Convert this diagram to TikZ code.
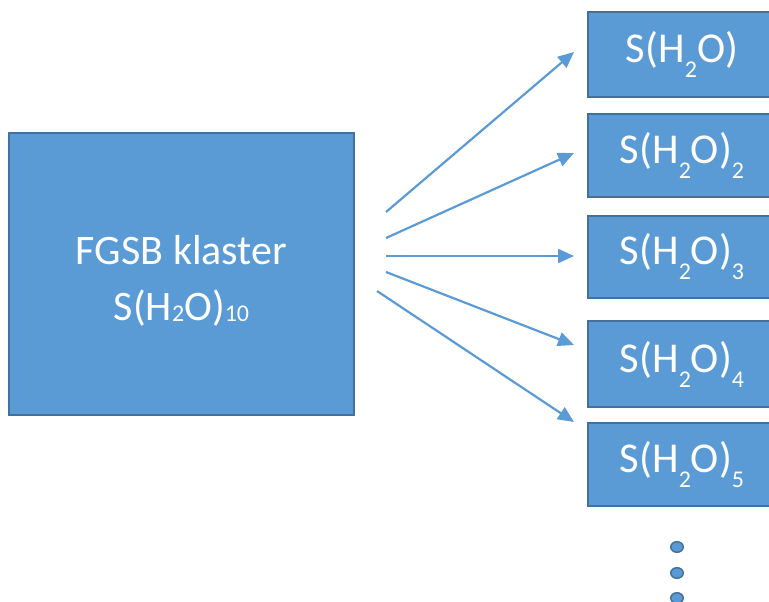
\documentclass[tikz,border=0pt]{standalone}
\usepackage{fontspec}
\setmainfont{Carlito}
\usetikzlibrary{arrows.meta,shapes.geometric}
\definecolor{boxfill}{HTML}{5B9BD5}
\definecolor{boxline}{HTML}{41719C}
\tikzset{
  bluebox/.style={draw=boxline, line width=2pt, fill=boxfill, text=white, inner sep=0pt, align=center},
  smallbox/.style={bluebox, minimum width=188pt, font=\fontsize{42.5}{48}\selectfont},
  conn/.style={draw=boxfill, line width=2.2pt, -{Triangle[length=16pt,width=14pt]}},
  dotmark/.style={draw=boxline, line width=1.5pt, fill=boxfill, ellipse, minimum width=12.5pt, minimum height=10.5pt, inner sep=0pt}
}
\newcommand{\subA}[1]{\raisebox{-15pt}{\fontsize{24}{24}\selectfont #1}}
\newcommand{\subB}[1]{\raisebox{-1pt}{\fontsize{24}{24}\selectfont #1}}
\begin{document}
\begin{tikzpicture}[x=1pt,y=-1pt]
\useasboundingbox (0,0) rectangle (769,602);
\clip (0,0) rectangle (769,602);
\node[bluebox, minimum width=345pt, minimum height=282pt] (big) at (181.5,274) {};
\node[text=white, align=center, inner sep=0pt, font=\fontsize{42}{56}\selectfont] (bigtxt) at (181.5,281) {FGSB klaster\\S(H\subB{2}O)\subB{10}};
\node[smallbox, minimum height=85pt] (b1) at (682,54.5) {S(H\subA{2}O)};
\node[smallbox, minimum height=83pt] (b2) at (682,155.5) {S(H\subA{2}O)\subA{2}};
\node[smallbox, minimum height=82pt] (b3) at (682,257) {S(H\subA{2}O)\subA{3}};
\node[smallbox, minimum height=86pt] (b4) at (682,364) {S(H\subA{2}O)\subA{4}};
\node[smallbox, minimum height=83pt] (b5) at (682,464.5) {S(H\subA{2}O)\subA{5}};
\coordinate (s1) at (386,212);
\coordinate (s2) at (386,238);
\coordinate (s3) at (386,256);
\coordinate (s4) at (386,272);
\coordinate (s5) at (377,291);
\coordinate (e1) at (574,52);
\coordinate (e2) at (574,153);
\coordinate (e3) at (574,256);
\coordinate (e4) at (574,345);
\coordinate (e5) at (574,422);
\draw[conn] (s1) -- (e1);
\draw[conn] (s2) -- (e2);
\draw[conn] (s3) -- (e3);
\draw[conn] (s4) -- (e4);
\draw[conn] (s5) -- (e5);
\node[dotmark] (d1) at (677,547) {};
\node[dotmark] (d2) at (677,573) {};
\node[dotmark] (d3) at (677,598) {};
\end{tikzpicture}
\end{document}
